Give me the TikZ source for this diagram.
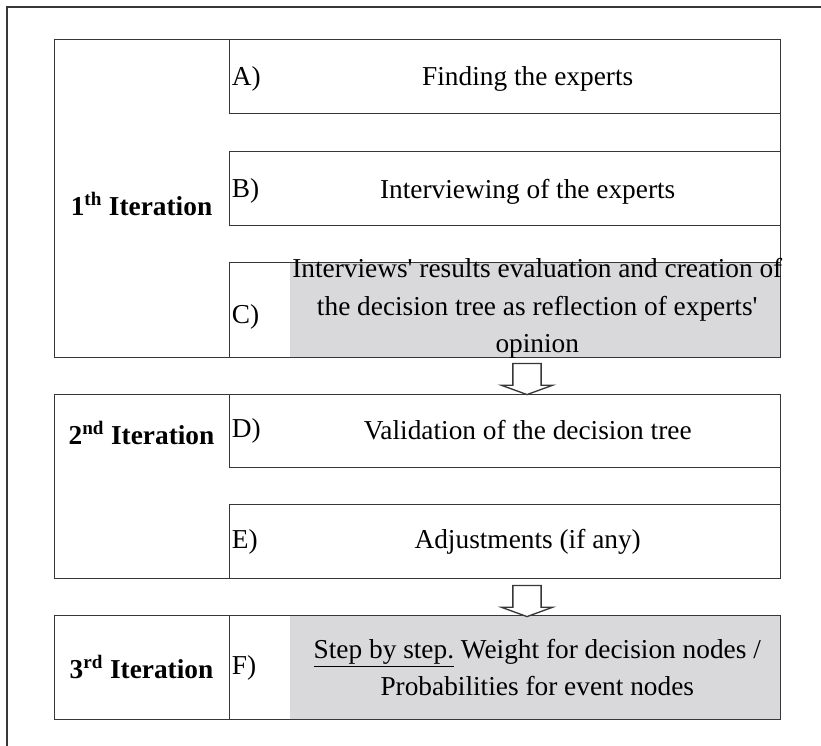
\documentclass[tikz,border=0pt]{standalone}
\usepackage{fontspec}
\setmainfont{Liberation Serif}
\usetikzlibrary{shapes.arrows}
\definecolor{cellgray}{RGB}{217,217,219}
\definecolor{linegray}{RGB}{55,55,55}
\tikzset{
  iterbox/.style={draw=linegray,line width=1pt,rectangle,inner sep=0pt,minimum width=544.5pt,anchor=north west},
  stepbox/.style={draw=linegray,line width=1pt,rectangle,inner sep=0pt,minimum width=413.25pt,anchor=north west},
  graycell/.style={fill=cellgray,rectangle,inner sep=0pt,minimum width=367.5pt,anchor=north west},
  itertext/.style={font=\bfseries\fontsize{20.5}{24}\selectfont,inner sep=0pt},
  letter/.style={font=\fontsize{20.5}{24}\selectfont,anchor=west,inner sep=0pt},
  steptext/.style={font=\fontsize{20.5}{28}\selectfont,align=center,inner sep=0pt},
  blockarrow/.style={draw=linegray,line width=1pt,fill=white,single arrow,rotate=-90,inner xsep=0pt,inner ysep=10.1pt,
    minimum height=23.25pt,minimum width=37.5pt,single arrow head extend=8.6pt,single arrow tip angle=140}
}
\begin{document}
\begin{tikzpicture}[x=0.75pt,y=-0.75pt]
        \useasboundingbox (0,0) rectangle (821,746);
        %% Frame
        \draw[linegray,line width=0.8pt] (821,7) -- (7,7) -- (7,746);
        %% Gray cells
        \node[graycell,minimum height=71.25pt] (gc) at (290,262) {};
        \node[graycell,minimum height=78pt] (gf) at (290,615) {};
        %% Iterations
        \node[iterbox,minimum height=238.5pt] (it1) at (54,39) {};
        \node[iterbox,minimum height=138pt] (it2) at (54,394) {};
        \node[iterbox,minimum height=78pt] (it3) at (54,615) {};
        \node[itertext] (l1) at (141.5,204) {1\textsuperscript{th} Iteration};
        \node[itertext] (l2) at (141.5,433) {2\textsuperscript{nd} Iteration};
        \node[itertext] (l3) at (141.5,667) {3\textsuperscript{rd} Iteration};
        %% Steps
        \node[stepbox,minimum height=55.5pt] (sa) at (229,39) {};
        \node[stepbox,minimum height=55.5pt] (sb) at (229,151) {};
        \node[stepbox,minimum height=71.25pt] (sc) at (229,262) {};
        \node[stepbox,minimum height=54.75pt] (sd) at (229,394) {};
        \node[stepbox,minimum height=55.5pt] (se) at (229,504) {};
        \node[stepbox,minimum height=78pt] (sf) at (229,615) {};
        \node[letter] (la) at ([xshift=2pt,yshift=-2pt]sa.west) {A)};
        \node[letter] (lb) at ([xshift=2pt,yshift=-2pt]sb.west) {B)};
        \node[letter] (lc) at ([xshift=2pt,yshift=-5pt]sc.west) {C)};
        \node[letter] (ld) at ([xshift=2pt]sd.west) {D)};
        \node[letter] (le) at ([xshift=2pt]se.west) {E)};
        \node[letter] (lf) at ([xshift=2pt]sf.west) {F)};
        \node[steptext] (ta) at ([xshift=16.9pt,yshift=-2pt]sa.center) {Finding the experts};
        \node[steptext] (tb) at ([xshift=16.9pt,yshift=-2pt]sb.center) {Interviewing of the experts};
        \node[steptext] (tc) at ([xshift=1.5pt,yshift=1pt]gc.center) {Interviews\textquotesingle{} results evaluation and creation of\\the decision tree as reflection of experts\textquotesingle\\opinion};
        \node[steptext] (td) at ([xshift=16.9pt,yshift=1pt]sd.center) {Validation of the decision tree};
        \node[steptext] (te) at ([xshift=16.9pt]se.center) {Adjustments (if any)};
        \node[steptext] (tf) at ([xshift=1.5pt]gf.center) {\underline{Step by step.} Weight for decision nodes /\\Probabilities for event nodes};
        %% Arrows
        \node[blockarrow] (a1) at (527,376.5) {};
        \node[blockarrow] (a2) at (527,598.5) {};
\end{tikzpicture}
\end{document}
